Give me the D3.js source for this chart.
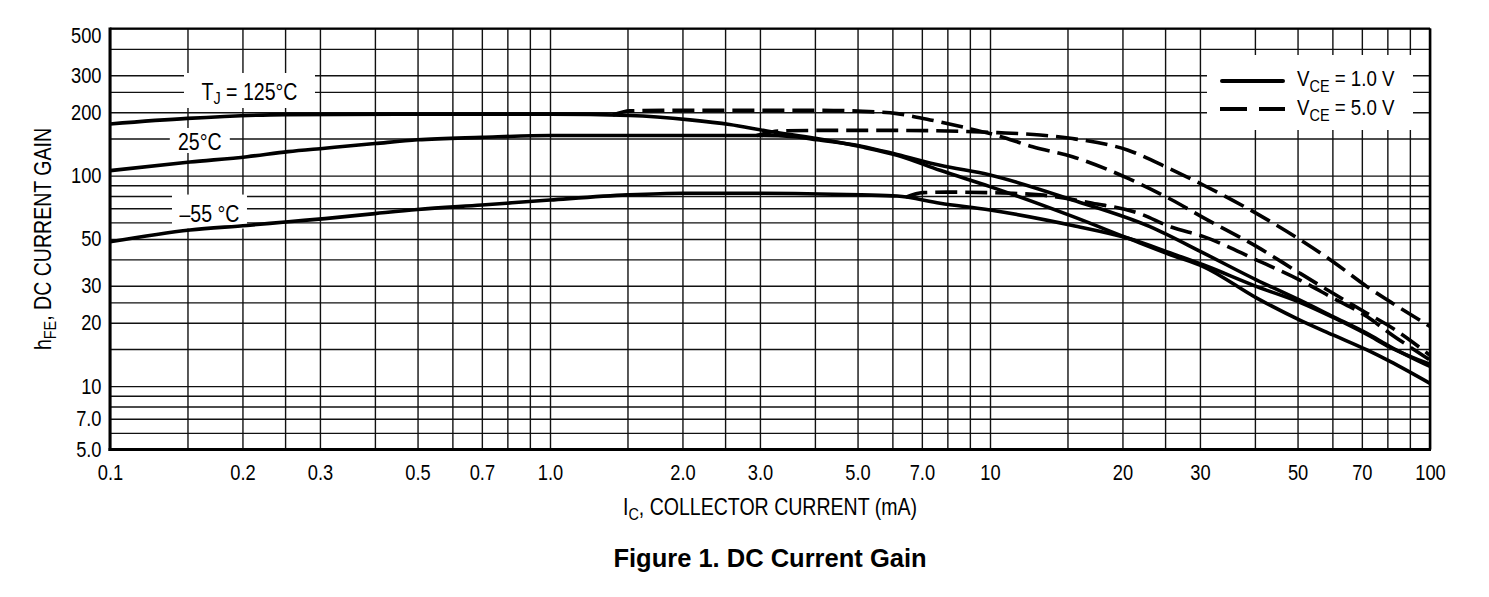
<!DOCTYPE html>
<html><head><meta charset="utf-8">
<script src="https://cdn.jsdelivr.net/npm/d3@7"></script>
<style>
html,body{margin:0;padding:0;background:#fff;}
svg{display:block;}
text{font-family:"Liberation Sans", Arial, Helvetica, sans-serif; fill:#000;}
</style></head><body>
<svg id="chart" width="1489" height="597"></svg>
<script>
// ---------- data ----------
const xTickValues = [0.1,0.2,0.3,0.5,0.7,1,2,3,5,7,10,20,30,50,70,100];
const xTickLabels = ["0.1","0.2","0.3","0.5","0.7","1.0","2.0","3.0","5.0","7.0","10","20","30","50","70","100"];
const yTickValues = [5,7,10,20,30,50,100,200,300,500];
const yTickLabels = ["5.0","7.0","10","20","30","50","100","200","300","500"];
const xGridValues = [0.1,0.15,0.2,0.25,0.3,0.4,0.5,0.6,0.7,0.8,0.9,1,1.5,2,2.5,3,4,5,6,7,8,9,10,15,20,25,30,40,50,60,70,80,90,100];
const yGridValues = [5,6,7,8,9,10,15,20,25,30,40,50,60,70,80,90,100,150,200,250,300,400,500];

// TJ = 125 C, VCE = 1.0 V
const ic125v1  = [0.1,0.15,0.25,0.45,1.0,1.52,2.08,2.56,3.11,4.04,5.1,6.15,7.7,10,15.4,20.6,25.8,30.6,40.4,50.6,60.2,71.9,81.1,100];
const hfe125v1 = [176,187,195,196,196,193,184,175,163,150,137,125,106,88.7,64,50.4,42,36.9,26.2,20.6,17.5,14.85,13.1,10.3];
// TJ = 25 C, VCE = 1.0 V
const ic25v1  = [0.1,0.152,0.205,0.254,0.308,0.4,0.5,0.7,1.0,2.0,3.0,3.6,4.04,5.1,6.15,7.7,10,15.4,23.1,30.6,40.4,50.6,60.2,71.9,81.1,100];
const hfe25v1 = [105.6,116,123,130,135,142,148,152,155,155,155,153,148,138,126,112,100.7,76.6,57.2,42.8,31.9,25.6,21.4,17.8,15.4,12.4];
// TJ = -55 C, VCE = 1.0 V
const icm55v1  = [0.1,0.152,0.205,0.254,0.308,0.4,0.5,0.7,1.0,1.5,2.0,3.0,5.1,6.15,7.7,10,15.4,20.6,25.8,30.6,40.4,50.6,60.2,71.9,81.1,100];
const hfem55v1 = [48.5,55.2,58,60.4,62.5,66,69,72.5,76.6,81,82.5,82.5,81,80,74,68.7,58,50.4,42.8,37.6,29.7,25,21.2,17.6,15.3,12.7];
// TJ = 125 C, VCE = 5.0 V
const ic125v5  = [1.39,1.52,2.0,3.0,4.0,5.14,6.15,7.31,8.68,10.4,12.5,15.4,20.6,25.8,30.6,40.4,50.6,60.2,71.9,81.1,100];
const hfe125v5 = [194,203,204.5,204.5,204.5,202,197,184,170,155,137,123,97,77,63,46,34.4,27.6,22.2,19.2,14];
// TJ = 25 C, VCE = 5.0 V
const ic25v5  = [2.95,3.33,4.0,6.0,8.0,10.4,13.0,15.4,20.6,25.8,30.6,40.4,50.6,60.2,71.9,81.1,100];
const hfe25v5 = [155,163,164,164,163,160,156,150,132,107,90,66,49.7,39,29.7,25.2,19.2];
// TJ = -55 C, VCE = 5.0 V
const icm55v5  = [6.44,7.04,8.0,10.0,13.0,17.1,21.9,25.8,30.6,40.4,50.6,60.2,71.9,81.1,100];
const hfem55v5 = [79,83,83.5,83,81,74,66,57,51.3,39.7,31.9,26.2,21.4,17.8,13.3];

const tempLabels = ["T|J| = 125°C","25°C","–55 °C"];
const legendLabels = ["V|CE| = 1.0 V","V|CE| = 5.0 V"];

// ---------- layout ----------
const SX = 0.85;
const L = 110, R = 1430, T = 28.5, B = 449.5;
const svg = d3.select("#chart");
const x = d3.scaleLog().domain([0.1,100]).range([L,R]);
const y = d3.scaleLog().domain([5,500]).range([B,T]);

function richText(sel, str, size, subSize, subDy){
  const parts = str.split("|");
  parts.forEach((p,i)=>{
    const isSub = i%2===1;
    const ts = sel.append("tspan").text(p);
    if(isSub){ ts.attr("font-size",subSize).attr("dy",subDy); }
    else if(i>0){ ts.attr("font-size",size).attr("dy",-subDy); }
  });
  return sel;
}

// ---------- grid ----------
const grid = svg.append("g");
grid.append("g").attr("transform",`translate(0,${B})`)
  .call(d3.axisBottom(x).tickValues(xGridValues).tickSize(-(B-T)).tickFormat(""))
  .call(g=>g.select(".domain").remove())
  .call(g=>g.selectAll("line").attr("stroke","#111").attr("stroke-width",1.4));
grid.append("g").attr("transform",`translate(${L},0)`)
  .call(d3.axisLeft(y).tickValues(yGridValues).tickSize(-(R-L)).tickFormat(""))
  .call(g=>g.select(".domain").remove())
  .call(g=>g.selectAll("line").attr("stroke","#111").attr("stroke-width",1.4));

// ---------- white label boxes ----------
const labelAnchors = [[0.2075,253.8],[0.160,146.9],[0.1683,67.5]];
const labelBoxes = [[131,35],[60,25],[75,34]];
labelAnchors.forEach((a,i)=>{
  const cx = x(a[0]), cy = y(a[1]);
  svg.append("rect").attr("x",cx-labelBoxes[i][0]/2).attr("y",cy-labelBoxes[i][1]/2)
    .attr("width",labelBoxes[i][0]).attr("height",labelBoxes[i][1]).attr("fill","#fff");
});
svg.append("rect").attr("x",1207).attr("y",55).attr("width",206).attr("height",75).attr("fill","#fff");

// ---------- curves ----------
const series = [
  {ic:ic125v1, h:hfe125v1, dashed:false},
  {ic:ic25v1, h:hfe25v1, dashed:false},
  {ic:icm55v1, h:hfem55v1, dashed:false},
  {ic:ic125v5, h:hfe125v5, dashed:true},
  {ic:ic25v5, h:hfe25v5, dashed:true},
  {ic:icm55v5, h:hfem55v5, dashed:true}
];
const line = d3.line().x(d=>x(d[0])).y(d=>y(d[1])).curve(d3.curveMonotoneX);
series.forEach(s=>{
  svg.append("path").attr("d",line(s.ic.map((v,i)=>[v,s.h[i]])))
    .attr("fill","none").attr("stroke","#000").attr("stroke-width",3.6)
    .attr("stroke-linejoin","round")
    .attr("stroke-dasharray",s.dashed?"22,8":null);
});

// ---------- frame ----------
svg.append("line").attr("x1",L).attr("x2",R).attr("y1",T).attr("y2",T).attr("stroke","#000").attr("stroke-width",1.8);
svg.append("line").attr("x1",R).attr("x2",R).attr("y1",T).attr("y2",B).attr("stroke","#000").attr("stroke-width",2.5);
svg.append("line").attr("x1",L).attr("x2",L).attr("y1",T-1).attr("y2",B+1.5).attr("stroke","#000").attr("stroke-width",3);
svg.append("line").attr("x1",L-1.5).attr("x2",R+1).attr("y1",B).attr("y2",B).attr("stroke","#000").attr("stroke-width",3);

// ---------- tick labels ----------
svg.append("g").attr("transform",`translate(0,${B})`)
  .call(d3.axisBottom(x).tickValues(xTickValues).tickSize(0).tickPadding(15).tickFormat((d,i)=>xTickLabels[i]))
  .call(g=>g.select(".domain").remove())
  .call(g=>g.selectAll("text").attr("font-size",21.5).attr("font-family","Liberation Sans, Arial, sans-serif")
     .attr("fill","#000").attr("transform",`scale(${SX},1)`));
svg.append("g").attr("transform",`translate(${L},0)`)
  .call(d3.axisLeft(y).tickValues(yTickValues).tickSize(0).tickPadding(10).tickFormat((d,i)=>yTickLabels[i]))
  .call(g=>g.select(".domain").remove())
  .call(g=>g.selectAll("text").attr("font-size",21.5).attr("font-family","Liberation Sans, Arial, sans-serif")
     .attr("fill","#000").attr("transform",d=>`translate(0,${Math.max(0,T+7.5-y(d))}) scale(${SX},1)`));

// ---------- temperature labels ----------
const labelBaseOff = [9.5,9.5,10];
labelAnchors.forEach((a,i)=>{
  const t = svg.append("text").attr("text-anchor","middle").attr("font-size",23)
    .attr("transform",`translate(${x(a[0])},${y(a[1])+labelBaseOff[i]}) scale(${SX},1)`);
  richText(t, tempLabels[i], 23, 17, 4);
});

// ---------- legend ----------
svg.append("line").attr("x1",1222).attr("x2",1283).attr("y1",81).attr("y2",81)
  .attr("stroke","#000").attr("stroke-width",4).attr("stroke-linecap","round");
svg.append("line").attr("x1",1220).attr("x2",1285).attr("y1",109).attr("y2",109)
  .attr("stroke","#000").attr("stroke-width",4).attr("stroke-dasharray","27,12");
legendLabels.forEach((lab,i)=>{
  const t = svg.append("text").attr("font-size",22)
    .attr("transform",`translate(1297,${86+28.5*i}) scale(${SX},1)`);
  richText(t, lab, 22, 17, 6);
});

// ---------- axis titles ----------
const xt = svg.append("text").attr("text-anchor","middle").attr("font-size",23)
  .attr("transform",`translate(${(L+R)/2},515) scale(${SX},1)`);
richText(xt, "I|C|, COLLECTOR CURRENT (mA)", 23, 17, 5);

const yt = svg.append("text").attr("text-anchor","middle").attr("font-size",23)
  .attr("transform",`translate(50.5,${(T+B)/2}) rotate(-90) scale(${SX},1)`);
richText(yt, "h|FE|, DC CURRENT GAIN", 23, 17, 5);

// ---------- caption ----------
svg.append("text").attr("x",(L+R)/2).attr("y",567).attr("text-anchor","middle")
  .attr("font-size",25.5).attr("font-weight","bold").text("Figure 1. DC Current Gain");
</script>
</body></html>
